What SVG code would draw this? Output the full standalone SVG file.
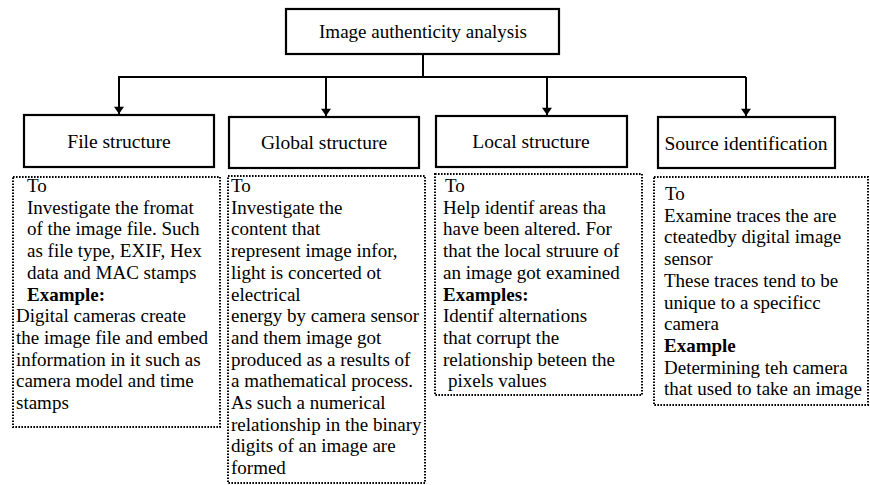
<svg xmlns="http://www.w3.org/2000/svg" width="870" height="485" viewBox="0 0 870 485">
<defs>
<marker id="arr" viewBox="0 0 10 14" refX="10" refY="7" markerWidth="14" markerHeight="10" markerUnits="userSpaceOnUse" orient="auto">
<path d="M0,0 L14,5 L0,10 z" transform="scale(0.714,1.4)" fill="#000"/>
</marker>
<style>
.box{fill:#fff;stroke:#000;stroke-width:2.2}
.dot{fill:#fff;stroke:#000;stroke-width:2;stroke-dasharray:1.6 1.4}
.t{font-family:"Liberation Serif","Times New Roman",serif;font-size:19px;fill:#000}
.h{font-family:"Liberation Serif","Times New Roman",serif;font-size:19.5px;fill:#000;text-anchor:middle}
.b{font-weight:bold}
.c{fill:none;stroke:#000;stroke-width:2}
</style>
</defs>
<rect width="870" height="485" fill="#fff"/>
<g id="connectors">
<path class="c" d="M423,54 V77 M118,77 H746"/>
<path class="c" d="M119,77 V114" marker-end="url(#arr)"/>
<path class="c" d="M326,77 V116" marker-end="url(#arr)"/>
<path class="c" d="M547,77 V115" marker-end="url(#arr)"/>
<path class="c" d="M746,77 V116" marker-end="url(#arr)"/>
</g>
<g id="root">
<rect class="box" x="286" y="9" width="273" height="45"/>
<text class="h" x="423" y="38" style="font-size:19px">Image authenticity analysis</text>
</g>
<g id="file">
<rect class="box" x="24" y="115" width="190" height="52"/>
<text class="h" x="119" y="148">File structure</text>
</g>
<g id="global">
<rect class="box" x="229" y="117" width="190" height="51"/>
<text class="h" x="324" y="149">Global structure</text>
</g>
<g id="local">
<rect class="box" x="436" y="116" width="191" height="51"/>
<text class="h" x="531" y="148">Local structure</text>
</g>
<g id="source">
<rect class="box" x="658" y="117" width="177" height="51"/>
<text class="h" x="746" y="150">Source identification</text>
</g>
<g id="file-desc">
<rect class="dot" x="13" y="177" width="207" height="250"/>
<text class="t" x="27" y="192">To</text>
<text class="t" x="27" y="213.7">Investigate the fromat</text>
<text class="t" x="27" y="235.4">of the image file. Such</text>
<text class="t" x="27" y="257.1">as file type, EXIF, Hex</text>
<text class="t" x="27" y="278.8">data and MAC stamps</text>
<text class="t b" x="27" y="300.5">Example:</text>
<text class="t" x="16" y="322.2">Digital cameras create</text>
<text class="t" x="16" y="343.9">the image file and embed</text>
<text class="t" x="16" y="365.6">information in it such as</text>
<text class="t" x="16" y="387.3">camera model and time</text>
<text class="t" x="16" y="409">stamps</text>
</g>
<g id="global-desc">
<rect class="dot" x="228" y="176" width="197" height="307"/>
<text class="t" x="231" y="192">To</text>
<text class="t" x="231" y="213.7">Investigate the</text>
<text class="t" x="231" y="235.4">content that</text>
<text class="t" x="231" y="257.1">represent image infor,</text>
<text class="t" x="231" y="278.8">light is concerted ot</text>
<text class="t" x="231" y="300.5">electrical</text>
<text class="t" x="231" y="322.2">energy by camera sensor</text>
<text class="t" x="231" y="343.9">and them image got</text>
<text class="t" x="231" y="365.6">produced as a results of</text>
<text class="t" x="231" y="387.3">a mathematical process.</text>
<text class="t" x="231" y="409">As such a numerical</text>
<text class="t" x="231" y="430.7">relationship in the binary</text>
<text class="t" x="231" y="452.4">digits of an image are</text>
<text class="t" x="231" y="474.1">formed</text>
</g>
<g id="local-desc">
<rect class="dot" x="435" y="174" width="207" height="221"/>
<text class="t" x="445" y="192">To</text>
<text class="t" x="443" y="213.7">Help identif areas tha</text>
<text class="t" x="443" y="235.4">have been altered. For</text>
<text class="t" x="443" y="257.1">that the local struure of</text>
<text class="t" x="443" y="278.8">an image got examined</text>
<text class="t b" x="443" y="300.5">Examples:</text>
<text class="t" x="443" y="322.2">Identif alternations</text>
<text class="t" x="443" y="343.9">that corrupt the</text>
<text class="t" x="443" y="365.6">relationship beteen the</text>
<text class="t" x="448" y="387.3">pixels values</text>
</g>
<g id="source-desc">
<rect class="dot" x="654" y="177" width="214" height="228"/>
<text class="t" x="665" y="200">To</text>
<text class="t" x="664" y="221.7">Examine traces the are</text>
<text class="t" x="664" y="243.4">cteatedby digital image</text>
<text class="t" x="664" y="265.1">sensor</text>
<text class="t" x="664" y="286.8">These traces tend to be</text>
<text class="t" x="664" y="308.5">unique to a specificc</text>
<text class="t" x="664" y="330.2">camera</text>
<text class="t b" x="664" y="351.9">Example</text>
<text class="t" x="664" y="373.6">Determining teh camera</text>
<text class="t" x="664" y="395.3">that used to take an image</text>
</g>
</svg>
